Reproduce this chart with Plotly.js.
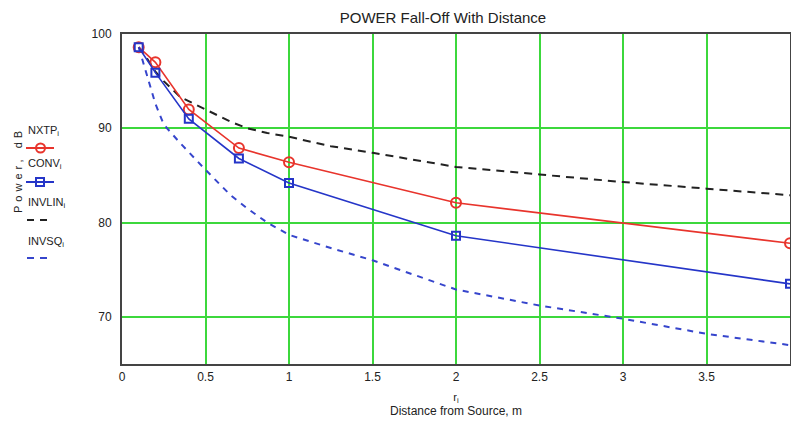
<!DOCTYPE html>
<html>
<head>
<meta charset="utf-8">
<script src="https://cdn.plot.ly/plotly-3.0.1.min.js"></script>
<style>html,body{margin:0;padding:0;background:#fff;}#chart{width:791px;height:421px;}</style>
</head>
<body>
<div id="chart"></div>
<script>
// Marker series (distance in m)
var rMarkers = [0.1, 0.2, 0.4, 0.7, 1, 2, 4];
var nxtp = [98.6, 97.0, 92.0, 87.9, 86.4, 82.1, 77.8];
var conv = [98.6, 95.9, 91.0, 86.8, 84.2, 78.6, 73.5];

// Dashed reference curves
var rCurve = [0.1, 0.15, 0.2, 0.25, 0.35, 0.5, 0.65, 0.75, 0.87, 1, 1.25, 1.5, 2, 2.5, 3, 3.5, 4];
var invlin = [98.6, 97.4, 96.0, 95.0, 93.3, 92.0, 90.7, 90.0, 89.5, 89.1, 88.1, 87.4, 85.9, 85.1, 84.3, 83.6, 82.9];
var invsq  = [98.6, 95.5, 92.6, 90.4, 88.4, 85.6, 82.9, 81.5, 80.0, 78.7, 77.3, 76.0, 72.9, 71.2, 69.8, 68.2, 67.0];

var xTicks = [0, 0.5, 1, 1.5, 2, 2.5, 3, 3.5, 4];
var xTickText = ['0', '0.5', '1', '1.5', '2', '2.5', '3', '3.5', '4'];
var yTicks = [70, 80, 90, 100];
var yTickText = ['70', '80', '90', '100'];

var legendNames = ['NXTP<sub>i</sub>', 'CONV<sub>i</sub>', 'INVLIN<sub>i</sub>', 'INVSQ<sub>i</sub>'];

var RED = '#e8342c', BLUE = '#2535c8', BLACK = '#222222', BLUE2 = '#3645cc';
var FONT = 'Liberation Sans, Arial, sans-serif';

var traces = [
  {x: rCurve, y: invlin, mode: 'lines', line: {color: BLACK, width: 2, dash: '8px,6px'}, showlegend: false},
  {x: rCurve, y: invsq, mode: 'lines', line: {color: BLUE2, width: 2, dash: '6px,6px'}, showlegend: false},
  {x: rMarkers, y: nxtp, mode: 'lines+markers', line: {color: RED, width: 1.6},
   marker: {symbol: 'circle-open', size: 10, color: RED, line: {width: 2}}, showlegend: false},
  {x: rMarkers, y: conv, mode: 'lines+markers', line: {color: BLUE, width: 1.6},
   marker: {symbol: 'square-open', size: 8, color: BLUE, line: {width: 2}}, showlegend: false}
];

var L = 122, R = 790, T = 34, B = 364;
function px(xp) { return (xp - L) / (R - L); }
function py(yp) { return (B - yp) / (B - T); }

var annotations = [
  {text: '<span style="letter-spacing:4px">Power, dB</span>', textangle: -90, xref: 'paper', yref: 'paper', x: px(10), y: py(170),
   showarrow: false, font: {family: FONT, size: 11, color: '#222'}}
];
var labelY = [131, 164, 203, 242];
for (var i = 0; i < legendNames.length; i++) {
  annotations.push({text: legendNames[i], xref: 'paper', yref: 'paper', x: px(26), y: py(labelY[i]),
    xanchor: 'left', yanchor: 'middle', showarrow: false, font: {family: FONT, size: 11, color: '#222'}});
}

var shapes = [
  {type: 'line', xref: 'paper', yref: 'paper', x0: px(26), x1: px(54), y0: py(148), y1: py(148), line: {color: RED, width: 2}},
  {type: 'circle', xref: 'paper', yref: 'paper', x0: px(36), x1: px(45), y0: py(152.5), y1: py(143.5), line: {color: RED, width: 2}, fillcolor: 'rgba(0,0,0,0)'},
  {type: 'line', xref: 'paper', yref: 'paper', x0: px(26), x1: px(54), y0: py(182), y1: py(182), line: {color: BLUE, width: 2}},
  {type: 'rect', xref: 'paper', yref: 'paper', x0: px(36), x1: px(44), y0: py(186), y1: py(178), line: {color: BLUE, width: 2}, fillcolor: 'rgba(0,0,0,0)'},
  {type: 'line', xref: 'paper', yref: 'paper', x0: px(27), x1: px(50), y0: py(220), y1: py(220), line: {color: BLACK, width: 2, dash: '7px,6px'}},
  {type: 'line', xref: 'paper', yref: 'paper', x0: px(27), x1: px(50), y0: py(258), y1: py(258), line: {color: BLUE2, width: 2, dash: '7px,6px'}}
];

var layout = {
  width: 791, height: 421,
  margin: {l: L, r: 791 - R, t: T, b: 421 - B},
  paper_bgcolor: '#fff', plot_bgcolor: '#fff',
  title: {text: 'POWER Fall-Off With Distance', x: px(443), xref: 'paper', xanchor: 'center',
          y: 1 - 18 / 421, yanchor: 'middle', font: {family: FONT, size: 15, color: '#222'}},
  xaxis: {range: [0, 4], tickvals: xTicks, ticktext: xTickText, showgrid: true,
          gridcolor: '#3cd83c', gridwidth: 2, zeroline: false, showline: true, linecolor: '#444',
          linewidth: 2, mirror: true, ticks: 'outside', ticklen: 1, tickcolor: 'rgba(0,0,0,0)',
          tickfont: {family: FONT, size: 12, color: '#222'},
          title: {text: 'r<sub>i</sub><br><span style="font-size:12px">Distance from Source, m</span>',
                  standoff: 10, font: {family: FONT, size: 11, color: '#222'}}},
  yaxis: {range: [65, 100], tickvals: yTicks, ticktext: yTickText, showgrid: true,
          gridcolor: '#3cd83c', gridwidth: 2, zeroline: false, showline: true, linecolor: '#444',
          linewidth: 2, mirror: true, ticks: 'outside', ticklen: 6, tickcolor: 'rgba(0,0,0,0)',
          tickfont: {family: FONT, size: 12, color: '#222'}},
  annotations: annotations,
  shapes: shapes,
  showlegend: false
};

Plotly.newPlot('chart', traces, layout, {displayModeBar: false, staticPlot: true});
</script>
</body>
</html>
